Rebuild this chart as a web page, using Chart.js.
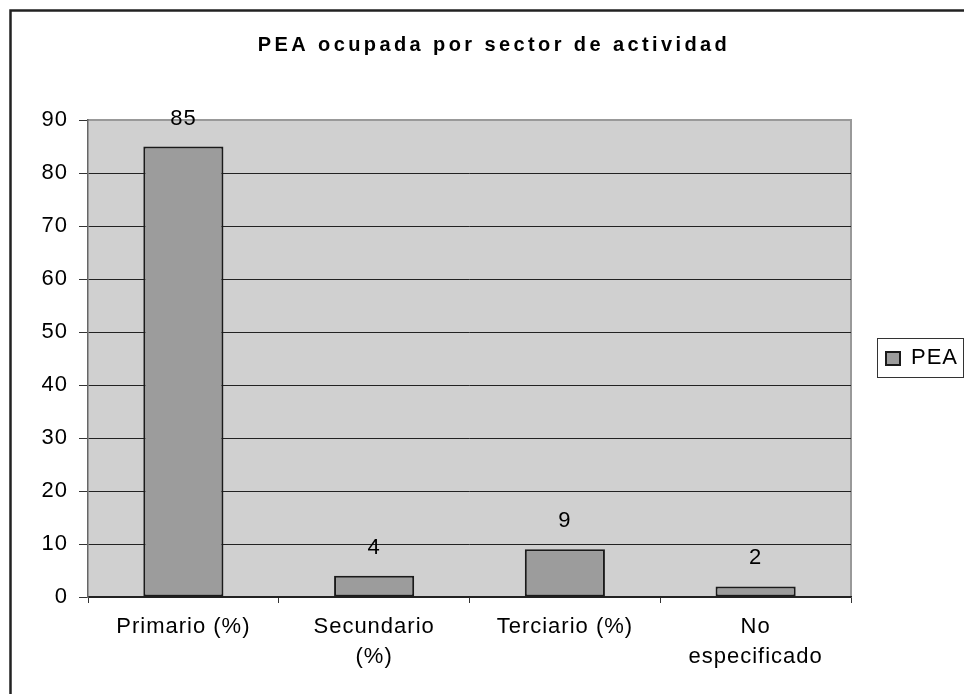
<!DOCTYPE html>
<html>
<head>
<meta charset="utf-8">
<script src="https://cdn.jsdelivr.net/npm/chart.js@4/dist/chart.umd.min.js"></script>
<style>
  body { margin: 0; background: #fff; overflow: hidden; }
  canvas { display: block; }
</style>
</head>
<body>
<canvas id="chart" width="964" height="694"></canvas>
<script>
const chartTitle = 'PEA ocupada por sector de actividad';
const categories = ['Primario (%)', ['Secundario', '(%)'], 'Terciario (%)', ['No', 'especificado']];
const seriesName = 'PEA';
const peaValues = [85, 4, 9, 2];
const yTicks = [0, 10, 20, 30, 40, 50, 60, 70, 80, 90];

const FONT = 'Arial, "Liberation Sans", sans-serif';

// Excel-like look: spaced text, boxed legend, value labels, frame
const excelLook = {
  id: 'excelLook',
  beforeUpdate(chart) { chart.ctx.letterSpacing = '1px'; },
  beforeDraw(chart) {
    const ctx = chart.ctx;
    const a = chart.chartArea;
    ctx.letterSpacing = '1px';
    ctx.save();
    ctx.fillStyle = '#d0d0d0';
    ctx.fillRect(a.left, a.top, a.right - a.left, a.bottom - a.top);
    ctx.strokeStyle = '#999';
    ctx.lineWidth = 2;
    ctx.beginPath();
    ctx.moveTo(a.left, a.top);
    ctx.lineTo(a.right, a.top);
    ctx.lineTo(a.right, a.bottom);
    ctx.stroke();
    ctx.restore();
  },
  afterDraw(chart) {
    const ctx = chart.ctx;
    const ds = chart.data.datasets[0];
    const meta = chart.getDatasetMeta(0);
    ctx.save();

    // value labels above bars
    ctx.font = '22px ' + FONT;
    ctx.fillStyle = '#000';
    ctx.textAlign = 'center';
    ctx.textBaseline = 'middle';
    ctx.letterSpacing = '1px';
    meta.data.forEach((bar, i) => {
      ctx.fillText(String(ds.data[i]), bar.x, bar.y - 28);
    });

    // title
    ctx.font = 'bold 20px ' + FONT;
    ctx.letterSpacing = '3.4px';
    ctx.fillText(chartTitle, 494, 45);

    // legend
    ctx.letterSpacing = '1px';
    ctx.strokeStyle = '#333';
    ctx.lineWidth = 1;
    ctx.strokeRect(877.5, 338.5, 86, 39);
    ctx.fillStyle = ds.backgroundColor;
    ctx.fillRect(886, 352, 14, 13);
    ctx.strokeStyle = '#1a1a1a';
    ctx.lineWidth = 2;
    ctx.strokeRect(886, 352, 14, 13);
    ctx.fillStyle = '#000';
    ctx.textAlign = 'left';
    ctx.font = '22px ' + FONT;
    ctx.fillText(ds.label, 911, 358);

    // outer frame (left and top edges)
    ctx.strokeStyle = '#222';
    ctx.lineWidth = 2.5;
    ctx.beginPath();
    ctx.moveTo(10.5, 694);
    ctx.lineTo(10.5, 10.5);
    ctx.lineTo(964, 10.5);
    ctx.stroke();
    ctx.restore();
  }
};

new Chart(document.getElementById('chart'), {
  type: 'bar',
  data: {
    labels: categories,
    datasets: [{
      label: seriesName,
      data: peaValues,
      backgroundColor: '#9c9c9c',
      borderColor: '#1a1a1a',
      borderWidth: 2,
      borderSkipped: false,
      categoryPercentage: 1,
      barPercentage: 0.42
    }]
  },
  options: {
    responsive: false,
    animation: false,
    devicePixelRatio: 1,
    layout: { padding: { top: 120, right: 113, left: 0, bottom: 0 } },
    plugins: {
      legend: { display: false },
      title: { display: false },
      tooltip: { enabled: false }
    },
    scales: {
      x: {
        afterFit(scale) { scale.height = 97; },
        grid: {
          offset: true,
          drawOnChartArea: false,
          drawTicks: true,
          tickLength: 6,
          color: '#333'
        },
        border: { color: '#222', width: 1.5 },
        ticks: {
          color: '#000',
          padding: 9,
          maxRotation: 0,
          autoSkip: false,
          font: { family: FONT, size: 22, lineHeight: 1.36 }
        }
      },
      y: {
        min: 0,
        max: 90,
        afterFit(scale) { scale.width = 88; },
        afterBuildTicks(scale) { scale.ticks = yTicks.map(v => ({ value: v })); },
        grid: {
          color: ctx => (ctx.tick && ctx.tick.value === 90 ? '#999' : '#222'),
          tickColor: '#333',
          tickLength: 9,
          lineWidth: 1
        },
        border: { color: '#666', width: 1.5 },
        ticks: {
          color: '#000',
          padding: 11,
          font: { family: FONT, size: 22 }
        }
      }
    }
  },
  plugins: [excelLook]
});
</script>
</body>
</html>
